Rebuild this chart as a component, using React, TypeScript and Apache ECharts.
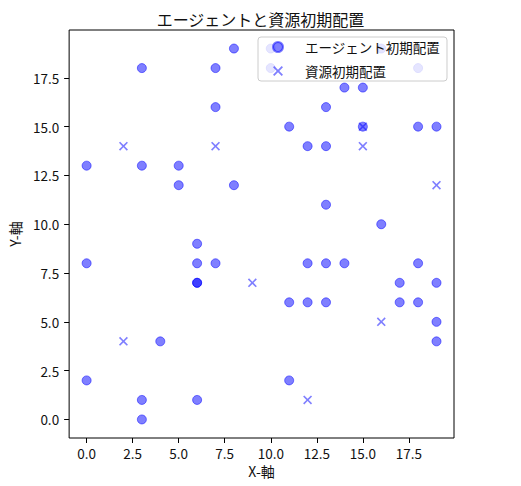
import React, { useEffect, useRef } from "react";
import * as echarts from "echarts";

const agentX = [0, 0, 0, 3, 3, 3, 3, 4, 5, 5, 6, 6, 6, 6, 6, 7, 7, 7, 8, 8, 10, 10, 11, 11, 11, 12, 12, 12, 13, 13, 13, 13, 13, 14, 14, 15, 15, 16, 16, 17, 17, 18, 18, 18, 18, 19, 19, 19, 19];
const agentY = [13, 8, 2, 18, 13, 1, 0, 4, 13, 12, 9, 8, 7, 7, 1, 18, 16, 8, 19, 12, 19, 18, 15, 6, 2, 14, 8, 6, 16, 14, 11, 8, 6, 17, 8, 17, 15, 19, 10, 7, 6, 18, 15, 8, 6, 15, 7, 5, 4];
const resourceX = [2, 7, 2, 9, 12, 15, 15, 16, 19];
const resourceY = [14, 14, 4, 7, 1, 15, 14, 5, 12];
const tickValues = [0, 2.5, 5, 7.5, 10, 12.5, 15, 17.5];
const titleText = "エージェントと資源初期配置";
const agentName = "エージェント初期配置";
const resourceName = "資源初期配置";
const xName = "X-軸";
const yName = "Y-軸";

const FONT = "'Noto Sans CJK JP', 'Noto Sans', sans-serif";
const X_PATH = "path://M0,1.3L1.3,0L5,3.7L8.7,0L10,1.3L6.3,5L10,8.7L8.7,10L5,6.3L1.3,10L0,8.7L3.7,5Z";
const BLUE = "rgba(0,0,255,0.5)";

export default function App() {
  const ref = useRef<HTMLDivElement>(null);
  useEffect(() => {
    if (!ref.current) return;
    const chart = echarts.init(ref.current, undefined, { renderer: "svg" });
    const axisCommon = (name: string, isY: boolean) => ({
      type: "value" as const,
      min: -0.95,
      max: 19.95,
      name,
      nameLocation: "middle" as const,
      nameGap: isY ? 46 : 25,
      nameTextStyle: { fontFamily: FONT, fontSize: 14, color: "#111" },
      splitLine: { show: false },
      axisLine: { show: false, onZero: false },
      axisTick: {
        show: true,
        inside: false,
        length: 5,
        customValues: tickValues,
        lineStyle: { color: "#000", width: 1 },
      },
      axisLabel: {
        show: true,
        margin: isY ? 10 : 8,
        customValues: tickValues,
        formatter: (v: number) => v.toFixed(1),
        fontFamily: FONT,
        fontSize: 13.5,
        color: "#111",
      },
    });
    chart.setOption({
      animation: false,
      backgroundColor: "#fff",
      title: {
        text: titleText,
        left: "center",
        top: 6,
        textStyle: { fontFamily: FONT, fontSize: 16, fontWeight: "normal", color: "#111" },
      },
      grid: {
        left: 67,
        right: 67,
        top: 30,
        bottom: 48,
        show: true,
        borderColor: "#000",
        borderWidth: 1,
        backgroundColor: "transparent",
      },
      xAxis: axisCommon(xName, false),
      yAxis: axisCommon(yName, true),
      legend: {
        orient: "vertical",
        left: 258,
        top: 37,
        padding: [3, 7, 3, 14],
        itemWidth: 10,
        itemHeight: 10,
        itemGap: 10,
        backgroundColor: "rgba(255,255,255,0.8)",
        borderColor: "#cccccc",
        borderWidth: 1,
        borderRadius: 3,
        textStyle: {
          fontFamily: FONT,
          fontSize: 13.5,
          color: "#111",
          lineHeight: 14,
          padding: [0, 0, 0, 17],
        },
        data: [
          { name: agentName, icon: "circle" },
          { name: resourceName, icon: X_PATH },
        ],
      },
      series: [
        {
          type: "scatter",
          name: agentName,
          symbol: "circle",
          symbolSize: 9,
          itemStyle: { color: BLUE, borderColor: BLUE, borderWidth: 1, opacity: 1 },
          data: agentX.map((x, i) => [x, agentY[i]]),
        },
        {
          type: "scatter",
          name: resourceName,
          symbol: X_PATH,
          symbolSize: 9,
          itemStyle: { color: BLUE, opacity: 1 },
          data: resourceX.map((x, i) => [x, resourceY[i]]),
        },
      ],
    });
    return () => chart.dispose();
  }, []);
  return (
    <div
      ref={ref}
      style={{ position: "fixed", left: 0, top: 0, width: 521, height: 486, background: "#fff" }}
    />
  );
}
